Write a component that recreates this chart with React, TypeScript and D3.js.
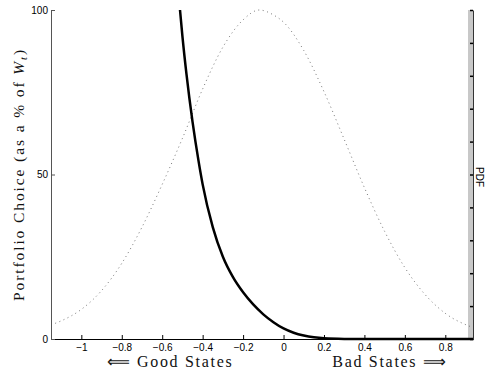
import { useRef, useEffect } from "react";
import * as d3 from "d3";

// x positions of the sampled curves
const choiceX = [-0.512, -0.5, -0.48, -0.45, -0.42, -0.4, -0.35, -0.3, -0.25, -0.2, -0.15, -0.1, -0.05, 0, 0.05, 0.1, 0.15, 0.2, 0.3, 0.4, 0.6, 0.94];
// portfolio choice (% of W_t), thick black line
const choiceY = [100, 92, 80.5, 66, 54, 47, 34, 25, 18.8, 14.2, 10.5, 7.5, 5.1, 3.2, 1.9, 1.05, 0.5, 0.2, 0.03, 0, 0, 0];

// PDF of states (scaled to the right axis, 0..1), dotted
const pdfX = [-1.15, -1.1, -1.0, -0.9, -0.8, -0.7, -0.6, -0.5, -0.4, -0.3, -0.2, -0.12, -0.05, 0.0, 0.1, 0.2, 0.3, 0.4, 0.5, 0.6, 0.7, 0.8, 0.94];
const pdfY = [0.043, 0.055, 0.09, 0.147, 0.23, 0.34, 0.47, 0.61, 0.76, 0.887, 0.97, 1.0, 0.985, 0.963, 0.877, 0.752, 0.607, 0.46, 0.327, 0.217, 0.135, 0.078, 0.034];

const xTicks = [-1, -0.8, -0.6, -0.4, -0.2, 0, 0.2, 0.4, 0.6, 0.8];
const yTicks = [0, 50, 100];
const rightTicks = [0, 0.1, 0.2, 0.3, 0.4, 0.5, 0.6, 0.7, 0.8, 0.9, 1];

export default function App() {
  const svgRef = useRef<SVGSVGElement>(null);

  useEffect(() => {
    if (!svgRef.current) return;
    const svg = d3.select(svgRef.current);
    svg.selectAll("*").remove();

    const left = 51, right = 473, top = 10, bottom = 339;
    const sans = "'Liberation Sans', Arial, sans-serif";
    const serif = "'Liberation Serif', 'Times New Roman', serif";

    const x = d3.scaleLinear().domain([-1.15, 0.937]).range([left, right]);
    const y = d3.scaleLinear().domain([0, 100]).range([bottom, top]);
    const y2 = d3.scaleLinear().domain([0, 1]).range([bottom, top]);

    // gray strip on the right axis
    svg.append("rect")
      .attr("x", right - 5).attr("y", top)
      .attr("width", 5).attr("height", bottom - top)
      .attr("fill", "#c8c8c8");

    // pdf dotted curve
    const pdfLine = d3.line<number>()
      .x((_, i) => x(pdfX[i]))
      .y((d) => y2(d))
      .curve(d3.curveMonotoneX);
    svg.append("path")
      .datum(pdfY)
      .attr("fill", "none")
      .attr("stroke", "#777")
      .attr("stroke-width", 1)
      .attr("stroke-dasharray", "1,3.5")
      .attr("d", pdfLine);

    // portfolio choice
    const choiceLine = d3.line<number>()
      .x((_, i) => x(choiceX[i]))
      .y((d) => y(d))
      .curve(d3.curveMonotoneX);
    svg.append("path")
      .datum(choiceY)
      .attr("fill", "none")
      .attr("stroke", "#000")
      .attr("stroke-width", 2.5)
      .attr("d", choiceLine);

    // bottom axis
    const gx = svg.append("g").attr("transform", `translate(0,${bottom})`)
      .call(d3.axisBottom(x).tickValues(xTicks).tickSizeInner(-4).tickSizeOuter(0)
        .tickFormat((d) => d3.format("")(d as number).replace("-", "\u2212")));
    gx.select(".domain").attr("stroke", "#000");
    gx.selectAll("line").attr("stroke", "#000");
    gx.selectAll("text").attr("y", 5).attr("font-family", sans).attr("font-size", 10).attr("fill", "#000");

    // left axis
    const gy = svg.append("g").attr("transform", `translate(${left},0)`)
      .call(d3.axisLeft(y).tickValues(yTicks).tickSizeInner(-4).tickSizeOuter(0));
    gy.select(".domain").attr("stroke", "#555");
    gy.selectAll("line").attr("stroke", "#555");
    gy.selectAll("text").attr("x", -3).attr("font-family", sans).attr("font-size", 10).attr("fill", "#000");

    // right axis
    const gr = svg.append("g").attr("transform", `translate(${right},0)`)
      .call(d3.axisRight(y2).tickValues(rightTicks).tickSizeInner(-3).tickSizeOuter(0).tickFormat(() => ""));
    gr.select(".domain").attr("stroke", "#333");
    gr.selectAll("line").attr("stroke", "#000").attr("stroke-width", 1.5);

    // axis labels
    const yl = svg.append("text")
      .attr("transform", `translate(24,${(top + bottom) / 2}) rotate(-90)`)
      .attr("text-anchor", "middle")
      .attr("font-family", serif)
      .attr("font-size", 15.5)
      .attr("letter-spacing", 1.9)
      .attr("fill", "#111");
    yl.append("tspan").text("Portfolio Choice (as a % of ");
    yl.append("tspan").attr("font-style", "italic").text("W");
    yl.append("tspan").attr("font-size", 10.5).attr("font-style", "italic").attr("dy", 3).text("t");
    yl.append("tspan").attr("dy", -3).text(")");

    svg.append("text")
      .attr("x", 170).attr("y", 367)
      .attr("text-anchor", "middle")
      .attr("font-family", serif).attr("font-size", 16).attr("letter-spacing", 1.7)
      .attr("fill", "#111")
      .text("\u27F8 Good States");
    svg.append("text")
      .attr("x", 390).attr("y", 367)
      .attr("text-anchor", "middle")
      .attr("font-family", serif).attr("font-size", 16).attr("letter-spacing", 1.7)
      .attr("fill", "#111")
      .text("Bad States \u27F9");

    svg.append("text")
      .attr("transform", `translate(476,177) rotate(90)`)
      .attr("text-anchor", "middle")
      .attr("font-family", sans).attr("font-size", 10)
      .attr("fill", "#000")
      .text("PDF");
  }, []);

  return (
    <div style={{ position: "fixed", left: 0, top: 0, width: 486, height: 374, background: "#fff" }}>
      <svg ref={svgRef} width={486} height={374} style={{ display: "block" }} />
    </div>
  );
}
